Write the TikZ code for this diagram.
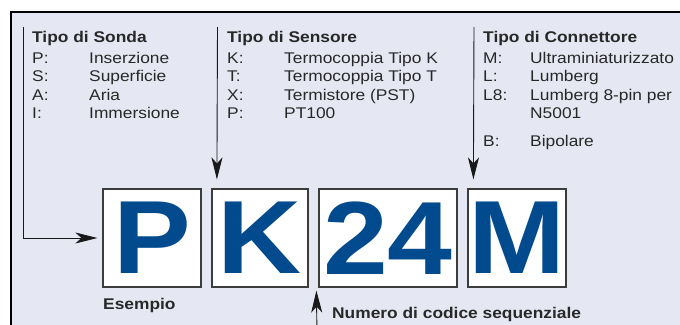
\documentclass[tikz,border=0pt]{standalone}
\usepackage{fontspec}
\setmainfont{Liberation Sans}[FakeStretch=1.12]
\usetikzlibrary{arrows.meta}
\definecolor{bgc}{RGB}{229,232,242}
\definecolor{codeblue}{RGB}{0,74,141}
\definecolor{txt}{RGB}{40,40,40}
\definecolor{boxc}{RGB}{60,60,60}
\tikzset{
  lbl/.style={anchor=base west, inner sep=0pt, font=\fontsize{15.5}{18}\selectfont, text=txt},
  hdr/.style={anchor=base west, inner sep=0pt, font=\fontsize{15.5}{18}\selectfont\bfseries, text=txt},
  codebox/.style={draw=boxc, line width=1.2pt, fill=white, minimum height=98pt, inner sep=0pt,
    font=\fontsize{104}{110}\selectfont\bfseries, text=codeblue},
  arr/.style={draw=black!90, line width=0.9pt, -{Stealth[length=22pt,width=11pt,inset=6pt]}}
}
\begin{document}
\begin{tikzpicture}[x=1pt,y=-1pt]
\useasboundingbox (0,0) rectangle (680,324);
\draw[line width=2pt, fill=bgc] (11,12) rectangle (700,340);

% code boxes
\node[codebox, minimum width=98pt] (pbox) at (152,238) {P};
\node[codebox, minimum width=96pt] (kbox) at (260,238) {K};
\node[codebox, minimum width=138pt] (nbox) at (388,238) {24};
\node[codebox, minimum width=98pt] (mbox) at (517,238) {M};

% connectors
\coordinate (s1) at (23,27);
\coordinate (t1) at ([xshift=-5pt]pbox.west);
\draw[arr] (s1) |- (t1);
\coordinate (s2) at (217.5,27);
\coordinate (t2) at ([xshift=5.5pt,yshift=9pt]kbox.north west);
\draw[arr] (s2) -- (t2);
\coordinate (s3) at (474,27);
\coordinate (t3) at ([xshift=6pt,yshift=9pt]mbox.north west);
\draw[arr] (s3) -- (t3);
\coordinate (s4) at (317,335);
\coordinate (t4) at ([xshift=-2pt,yshift=-3pt]nbox.south west);
\draw[arr] (s4) -- (t4);

% column 1
\node[hdr] (h1) at (32,42) {Tipo di Sonda};
\node[lbl] (k11) at (32,63) {P:};   \node[lbl] (v11) at (89,63) {Inserzione};
\node[lbl] (k12) at (32,81.5) {S:}; \node[lbl] (v12) at (89,81.5) {Superficie};
\node[lbl] (k13) at (32,100) {A:};  \node[lbl] (v13) at (89,100) {Aria};
\node[lbl] (k14) at (32,118.5) {I:};\node[lbl] (v14) at (89,118.5) {Immersione};

% column 2
\node[hdr] (h2) at (227,42) {Tipo di Sensore};
\node[lbl] (k21) at (227,63) {K:};   \node[lbl] (v21) at (284,63) {Termocoppia Tipo K};
\node[lbl] (k22) at (227,81.5) {T:}; \node[lbl] (v22) at (284,81.5) {Termocoppia Tipo T};
\node[lbl] (k23) at (227,100) {X:};  \node[lbl] (v23) at (284,100) {Termistore (PST)};
\node[lbl] (k24) at (227,118.5) {P:};\node[lbl] (v24) at (284,118.5) {PT100};

% column 3
\node[hdr] (h3) at (483,42) {Tipo di Connettore};
\node[lbl] (k31) at (483,63) {M:};   \node[lbl] (v31) at (530,63) {Ultraminiaturizzato};
\node[lbl] (k32) at (483,81.5) {L:}; \node[lbl] (v32) at (530,81.5) {Lumberg};
\node[lbl] (k33) at (483,100) {L8:}; \node[lbl] (v33) at (530,100) {Lumberg 8-pin per};
\node[lbl] (v34) at (530,118.5) {N5001};
\node[lbl] (k35) at (483,146.5) {B:};\node[lbl] (v35) at (530,146.5) {Bipolare};

% bottom labels
\node[hdr] (ex) at (103,309) {Esempio};
\node[hdr] (num) at (332,318) {Numero di codice sequenziale};
\end{tikzpicture}
\end{document}
